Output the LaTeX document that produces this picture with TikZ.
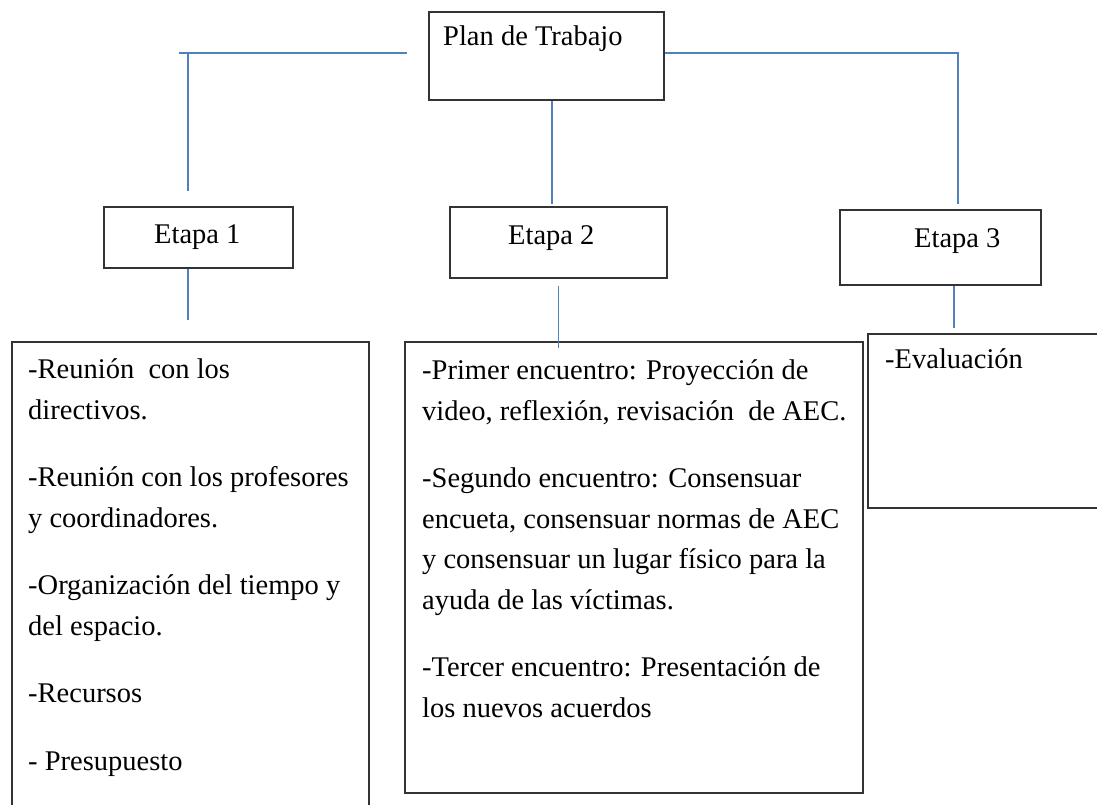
\documentclass[tikz,border=0pt]{standalone}
\usepackage{fontspec}
\setmainfont{Liberation Serif}
\usepackage{xcolor}
\usetikzlibrary{positioning}

\definecolor{linkblue}{HTML}{4F81BD}

\tikzset{
    frame/.style={draw=black!80, line width=1.8pt, anchor=north west, inner sep=0pt},
    txt/.style={anchor=base west, inner sep=0pt, align=left,
                font=\fontsize{28.5}{40.5}\selectfont},
    link/.style={draw=linkblue, line width=1.3pt}
}

\begin{document}
\begin{tikzpicture}[x=1pt, y=-1pt]
    \clip (0,0) rectangle (1097,805);
    \fill[white] (0,0) rectangle (1097,805);

    % Frames
    \node[frame, minimum width=235pt, minimum height=88pt]  (plan) at (428,11) {};
    \node[frame, minimum width=189pt, minimum height=61pt]  (e1) at (103,206) {};
    \node[frame, minimum width=217pt, minimum height=71pt]  (e2) at (449,206) {};
    \node[frame, minimum width=201pt, minimum height=75pt]  (e3) at (839,209) {};
    \node[frame, minimum width=357pt, minimum height=500pt] (b1) at (11,341) {};
    \node[frame, minimum width=458pt, minimum height=451pt] (b2) at (404,341) {};
    \node[frame, minimum width=260pt, minimum height=174pt] (b3) at (867,333) {};

    % Texts (multi-line ones sit on the baseline of their last line)
    \node[txt] (plantxt) at (443,46) {Plan de Trabajo};
    \node[txt] (e1txt) at (154,243) {Etapa 1};
    \node[txt] (e2txt) at (508,244) {Etapa 2};
    \node[txt] (e3txt) at (914,247) {Etapa 3};

    \node[txt] (b1txt) at (28,770) {-Reunión~ con los\\
        directivos.\\[27pt]
        -Reunión con los profesores\\
        y coordinadores.\\[27pt]
        -Organización del tiempo y\\
        del espacio.\\[27pt]
        -Recursos\\[27pt]
        - Presupuesto};
    \node[txt] (b2txt) at (422,717) {-Primer encuentro: Proyección de\\
        video, reflexión, revisación~ de AEC.\\[27pt]
        -Segundo encuentro: Consensuar\\
        encueta, consensuar normas de AEC\\
        y consensuar un lugar físico para la\\
        ayuda de las víctimas.\\[27pt]
        -Tercer encuentro: Presentación de\\
        los nuevos acuerdos};
    \node[txt] (b3txt) at (885,368) {-Evaluación};

    % Links from the plan to the stages
    \coordinate (kl) at (188,52);
    \coordinate (kr) at (958,0);
    \draw[link] ([shift={(-21pt,3pt)}]plan.west) -- ++(-228,0);
    \draw[link] (kl) -- ([yshift=15pt]kl |- e1.north);
    \draw[link] ([yshift=3pt]plan.east) -| ([yshift=5pt]kr |- e3.north);
    \draw[link] ([xshift=5.5pt]plan.south) -- ([shift={(-6.5pt,2pt)}]e2.north);

    % Links from the stages to their contents
    \draw[link] ([xshift=-10.5pt]e1.south) -- ++(0,51);
    \draw[link] ([yshift=-7pt]e2.south) -- ([yshift=-7pt]e2.south |- b2.north);
    \draw[link] ([xshift=13.5pt]e3.south) -- ([shift={(13.5pt,5pt)}]e3.south |- b3.north);
\end{tikzpicture}
\end{document}
